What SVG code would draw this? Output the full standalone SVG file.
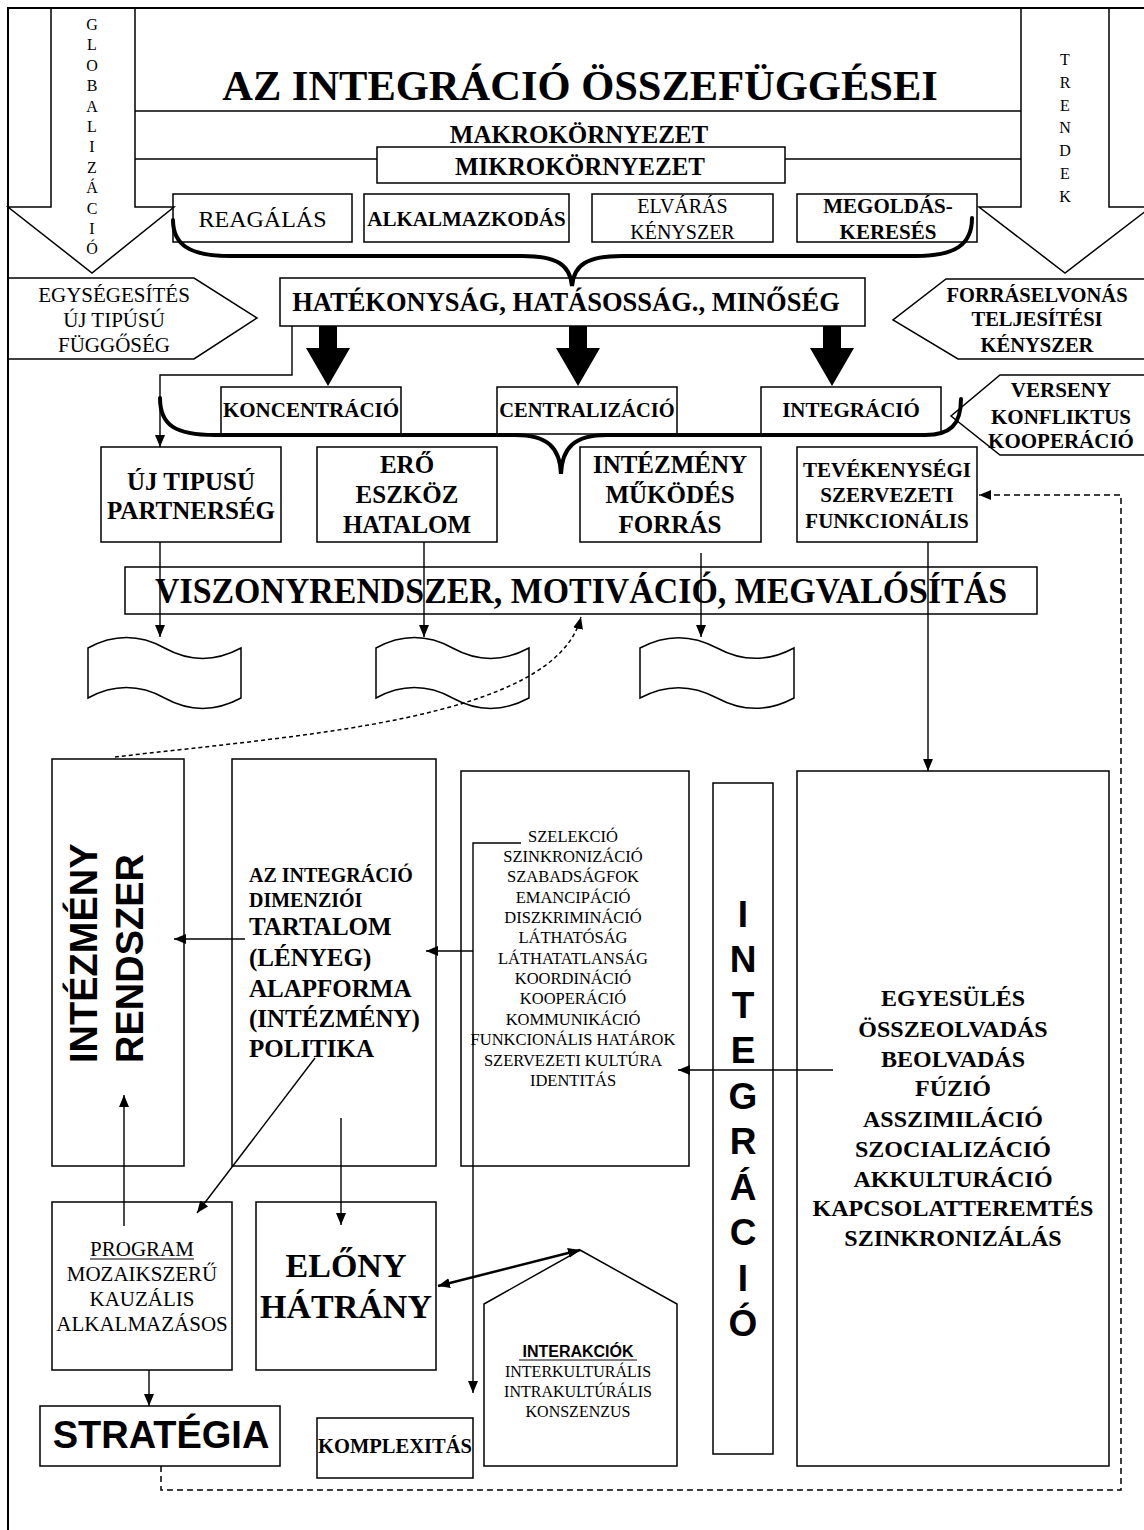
<svg xmlns="http://www.w3.org/2000/svg" width="1144" height="1530" viewBox="0 0 1144 1530">
<style>
text{fill:#000}
.s{font-family:"Liberation Serif","Times New Roman",serif}
.sb{font-family:"Liberation Serif","Times New Roman",serif;font-weight:bold}
.a{font-family:"Liberation Sans",Arial,sans-serif;font-weight:bold}
.m{text-anchor:middle}
.bx{fill:none;stroke:#000;stroke-width:1.5}
.ln{fill:none;stroke:#000;stroke-width:1.4}
.br{fill:none;stroke:#000;stroke-width:4;stroke-linecap:round}
.ds{fill:none;stroke:#000;stroke-width:1.5;stroke-dasharray:6,4}
.dt{fill:none;stroke:#000;stroke-width:1.5;stroke-dasharray:4,3}
.thick{fill:#000;stroke:none}
</style>
<defs>
<marker id="ah" markerUnits="userSpaceOnUse" markerWidth="12" markerHeight="10" refX="12" refY="5" orient="auto-start-reverse">
<path d="M0,0 L12,5 L0,10 Z" fill="#000"/>
</marker>
</defs>
<rect width="1144" height="1530" fill="#fff"/>
<rect x="8" y="8" width="1150" height="1540" fill="none" stroke="#000" stroke-width="2"/>

<g id="globalizacio">
<polygon class="bx" points="51,8 135,8 135,207 174,207 92,273 8,207 51,207"/>
<g class="s m" font-size="16">
<text x="92" y="30">G</text><text x="92" y="50">L</text><text x="92" y="71">O</text><text x="92" y="91">B</text><text x="92" y="112">A</text><text x="92" y="132">L</text><text x="92" y="152">I</text><text x="92" y="173">Z</text><text x="92" y="193">Á</text><text x="92" y="214">C</text><text x="92" y="234">I</text><text x="92" y="254">Ó</text>
</g>
</g>

<g id="trendek">
<polygon class="bx" points="1021,8 1109,8 1109,207 1151,207 1065,273 979,207 1021,207"/>
<g class="s m" font-size="16">
<text x="1065" y="65">T</text><text x="1065" y="88">R</text><text x="1065" y="111">E</text><text x="1065" y="133">N</text><text x="1065" y="156">D</text><text x="1065" y="179">E</text><text x="1065" y="202">K</text>
</g>
</g>

<g id="title">
<line class="ln" x1="135" y1="111" x2="1021" y2="111"/>
<text class="sb m" x="580" y="100" font-size="42.5">AZ INTEGRÁCIÓ ÖSSZEFÜGGÉSEI</text>
</g>

<g id="makrokornyezet">
<line class="ln" x1="135" y1="159" x2="377" y2="159"/>
<line class="ln" x1="785" y1="159" x2="1021" y2="159"/>
<text class="sb m" x="579" y="143" font-size="25">MAKROKÖRNYEZET</text>
</g>

<g id="mikrokornyezet">
<rect class="bx" x="377" y="147" width="408" height="36"/>
<text class="sb m" x="580" y="175" font-size="25">MIKROKÖRNYEZET</text>
</g>

<g id="reagalas">
<rect class="bx" x="173" y="194" width="179" height="48"/>
<text class="s m" x="262.5" y="227" font-size="24">REAGÁLÁS</text>
</g>
<g id="alkalmazkodas">
<rect class="bx" x="364" y="194" width="205" height="48"/>
<text class="sb m" x="466.5" y="226" font-size="21">ALKALMAZKODÁS</text>
</g>
<g id="elvaras">
<rect class="bx" x="592" y="194" width="181" height="48"/>
<text class="s m" x="682.5" y="213" font-size="20">ELVÁRÁS</text>
<text class="s m" x="682.5" y="239" font-size="20">KÉNYSZER</text>
</g>
<g id="megoldas">
<rect class="bx" x="797" y="194" width="180" height="48"/>
<text class="sb m" x="888" y="213" font-size="21">MEGOLDÁS-</text>
<text class="sb m" x="888" y="239" font-size="21">KERESÉS</text>
</g>

<g id="egysegesites">
<polygon class="bx" points="8,278 194,278 257,318 194,359 8,359"/>
<text class="s m" x="114" y="302" font-size="21">EGYSÉGESÍTÉS</text>
<text class="s m" x="114" y="327" font-size="21">ÚJ TIPÚSÚ</text>
<text class="s m" x="114" y="352" font-size="21">FÜGGŐSÉG</text>
</g>

<g id="hatekonysag">
<rect class="bx" x="280" y="278" width="585" height="48"/>
<text class="sb m" x="566" y="311" font-size="26.5">HATÉKONYSÁG, HATÁSOSSÁG., MINŐSÉG</text>
</g>

<g id="forraselvonas">
<polygon class="bx" points="946,279 1150,279 1150,359 958,359 893,320"/>
<text class="sb m" x="1037" y="302" font-size="20.5">FORRÁSELVONÁS</text>
<text class="sb m" x="1037" y="326" font-size="20.5">TELJESÍTÉSI</text>
<text class="sb m" x="1037" y="352" font-size="20.5">KÉNYSZER</text>
</g>

<g id="koncentracio">
<rect class="bx" x="221" y="387" width="180" height="47"/>
<text class="sb m" x="311" y="417" font-size="21">KONCENTRÁCIÓ</text>
</g>
<g id="centralizacio">
<rect class="bx" x="497" y="387" width="180" height="47"/>
<text class="sb m" x="587" y="417" font-size="20.5">CENTRALIZÁCIÓ</text>
</g>
<g id="integracio-box">
<rect class="bx" x="761" y="387" width="180" height="47"/>
<text class="sb m" x="851" y="417" font-size="21">INTEGRÁCIÓ</text>
</g>

<g id="verseny">
<polygon class="bx" points="1000,375 1150,375 1150,455 1000,455 951,416"/>
<text class="sb m" x="1061" y="397" font-size="21">VERSENY</text>
<text class="sb m" x="1061" y="424" font-size="21">KONFLIKTUS</text>
<text class="sb m" x="1061" y="448" font-size="21">KOOPERÁCIÓ</text>
</g>

<g id="uj-tipusu">
<rect class="bx" x="101" y="447" width="180" height="95"/>
<text class="sb m" x="191" y="490" font-size="25">ÚJ TIPUSÚ</text>
<text class="sb m" x="191" y="519" font-size="25">PARTNERSÉG</text>
</g>
<g id="ero">
<rect class="bx" x="317" y="447" width="180" height="95"/>
<text class="sb m" x="407" y="473" font-size="25">ERŐ</text>
<text class="sb m" x="407" y="503" font-size="25">ESZKÖZ</text>
<text class="sb m" x="407" y="533" font-size="25">HATALOM</text>
</g>
<g id="intezmeny-mukodes">
<rect class="bx" x="580" y="447" width="181" height="95"/>
<text class="sb m" x="670" y="473" font-size="25">INTÉZMÉNY</text>
<text class="sb m" x="670" y="503" font-size="25">MŰKÖDÉS</text>
<text class="sb m" x="670" y="533" font-size="25">FORRÁS</text>
</g>
<g id="tevekenysegi">
<rect class="bx" x="797" y="447" width="180" height="95"/>
<text class="sb m" x="887" y="477" font-size="21">TEVÉKENYSÉGI</text>
<text class="sb m" x="887" y="502" font-size="21">SZERVEZETI</text>
<text class="sb m" x="887" y="528" font-size="21">FUNKCIONÁLIS</text>
</g>

<g id="viszonyrendszer">
<rect class="bx" x="125" y="567" width="912" height="47"/>
<text class="sb m" x="581" y="603" font-size="36" textLength="852" lengthAdjust="spacingAndGlyphs">VISZONYRENDSZER, MOTIVÁCIÓ, MEGVALÓSÍTÁS</text>
</g>

<g id="tape1"><path class="bx" d="M88,648 C114,634 139,634 164.5,648 S215,662 241,648 L241,698 C215,712 190,712 164.5,698 S114,684 88,698 Z"/></g>
<g id="tape2"><path class="bx" d="M376,648 C402,634 427,634 452.5,648 S503,662 529,648 L529,698 C503,712 478,712 452.5,698 S402,684 376,698 Z"/></g>
<g id="tape3"><path class="bx" d="M640,648 C666,634 691,634 717,648 S768,662 794,648 L794,698 C768,712 743,712 717,698 S666,684 640,698 Z"/></g>

<g id="intezmeny-rendszer">
<rect class="bx" x="52" y="759" width="132" height="407"/>
<text class="a" font-size="38" transform="translate(97,1063) rotate(-90)">INTÉZMÉNY</text>
<text class="a" font-size="38" transform="translate(143,1063) rotate(-90)">RENDSZER</text>
</g>

<g id="dimenziok">
<rect class="bx" x="232" y="759" width="204" height="407"/>
<text class="sb" x="249" y="882" font-size="20">AZ INTEGRÁCIÓ</text>
<text class="sb" x="249" y="907" font-size="20">DIMENZIÓI</text>
<text class="sb" x="249" y="935" font-size="25">TARTALOM</text>
<text class="sb" x="249" y="966" font-size="25">(LÉNYEG)</text>
<text class="sb" x="249" y="997" font-size="25">ALAPFORMA</text>
<text class="sb" x="249" y="1027" font-size="25">(INTÉZMÉNY)</text>
<text class="sb" x="249" y="1057" font-size="25">POLITIKA</text>
</g>

<g id="szelekcio">
<rect class="bx" x="461" y="771" width="228" height="395"/>
<g class="s m" font-size="16.5">
<text x="573" y="842">SZELEKCIÓ</text>
<text x="573" y="862">SZINKRONIZÁCIÓ</text>
<text x="573" y="882">SZABADSÁGFOK</text>
<text x="573" y="903">EMANCIPÁCIÓ</text>
<text x="573" y="923">DISZKRIMINÁCIÓ</text>
<text x="573" y="943">LÁTHATÓSÁG</text>
<text x="573" y="964">LÁTHATATLANSÁG</text>
<text x="573" y="984">KOORDINÁCIÓ</text>
<text x="573" y="1004">KOOPERÁCIÓ</text>
<text x="573" y="1025">KOMMUNIKÁCIÓ</text>
<text x="573" y="1045">FUNKCIONÁLIS HATÁROK</text>
<text x="573" y="1066">SZERVEZETI KULTÚRA</text>
<text x="573" y="1086">IDENTITÁS</text>
</g>
</g>

<g id="integracio-vertical">
<rect class="bx" x="713" y="783" width="60" height="671"/>
<g class="a m" font-size="37">
<text x="743" y="927">I</text>
<text x="743" y="972">N</text>
<text x="743" y="1018">T</text>
<text x="743" y="1063">E</text>
<text x="743" y="1109">G</text>
<text x="743" y="1154">R</text>
<text x="743" y="1200">Á</text>
<text x="743" y="1245">C</text>
<text x="743" y="1291">I</text>
<text x="743" y="1336">Ó</text>
</g>
</g>

<g id="egyesules">
<rect class="bx" x="797" y="771" width="312" height="695"/>
<g class="sb m" font-size="24">
<text x="953" y="1006">EGYESÜLÉS</text>
<text x="953" y="1037">ÖSSZEOLVADÁS</text>
<text x="953" y="1067">BEOLVADÁS</text>
<text x="953" y="1096">FÚZIÓ</text>
<text x="953" y="1127">ASSZIMILÁCIÓ</text>
<text x="953" y="1157">SZOCIALIZÁCIÓ</text>
<text x="953" y="1187">AKKULTURÁCIÓ</text>
<text x="953" y="1216">KAPCSOLATTEREMTÉS</text>
<text x="953" y="1246">SZINKRONIZÁLÁS</text>
</g>
</g>

<g id="program">
<rect class="bx" x="52" y="1202" width="180" height="168"/>
<text class="s m" x="142" y="1256" font-size="21">PROGRAM</text>
<line x1="90" y1="1259" x2="194" y2="1259" stroke="#000" stroke-width="1.2"/>
<text class="s m" x="142" y="1281" font-size="21">MOZAIKSZERŰ</text>
<text class="s m" x="142" y="1306" font-size="21">KAUZÁLIS</text>
<text class="s m" x="142" y="1331" font-size="21">ALKALMAZÁSOS</text>
</g>

<g id="elony">
<rect class="bx" x="256" y="1202" width="180" height="168"/>
<text class="sb m" x="346" y="1277" font-size="34">ELŐNY</text>
<text class="sb m" x="346" y="1318" font-size="34">HÁTRÁNY</text>
</g>

<g id="interakciok">
<polygon class="bx" points="580,1250 677,1304 677,1466 484,1466 484,1304"/>
<text class="a m" x="578" y="1357" font-size="16">INTERAKCIÓK</text>
<line x1="519" y1="1360" x2="637" y2="1360" stroke="#000" stroke-width="1.2"/>
<text class="s m" x="578" y="1377" font-size="16">INTERKULTURÁLIS</text>
<text class="s m" x="578" y="1397" font-size="16">INTRAKULTÚRÁLIS</text>
<text class="s m" x="578" y="1417" font-size="16">KONSZENZUS</text>
</g>

<g id="komplexitas">
<rect class="bx" x="317" y="1418" width="156" height="60"/>
<text class="sb m" x="395" y="1453" font-size="20.5">KOMPLEXITÁS</text>
</g>

<g id="strategia">
<rect class="bx" x="40" y="1406" width="240" height="60"/>
<text class="a m" x="161" y="1448" font-size="38">STRATÉGIA</text>
</g>

<g id="connectors">
<path class="br" d="M173,220 C173,245 190,256 230,256 L522,256 C556,256 570,264 572,286 C574,264 588,256 622,256 L915,256 C955,256 972,245 972,218"/>
<path class="br" d="M160,398 C160,425 175,435 215,435 L515,435 C548,435 560,448 561,474 C562,448 574,435 607,435 L925,435 C950,435 961,425 961,399"/>
<path class="thick" d="M319,326 L337,326 L337,348 L350,348 L328,386 L306,348 L319,348 Z"/>
<path class="thick" d="M569,326 L587,326 L587,348 L600,348 L578,386 L556,348 L569,348 Z"/>
<path class="thick" d="M823,326 L841,326 L841,348 L854,348 L832,386 L810,348 L823,348 Z"/>
<path class="ln" d="M292,326 L292,375 L160,375 L160,447" marker-end="url(#ah)"/>
<line class="ln" x1="160" y1="542" x2="160" y2="637" marker-end="url(#ah)"/>
<line class="ln" x1="424" y1="542" x2="424" y2="637" marker-end="url(#ah)"/>
<line class="ln" x1="701" y1="553" x2="701" y2="637" marker-end="url(#ah)"/>
<line class="ln" x1="928" y1="542" x2="928" y2="771" marker-end="url(#ah)"/>
<path class="dt" d="M115,757 C300,735 555,720 581,617" marker-end="url(#ah)"/>
<line class="ln" x1="245" y1="939" x2="174" y2="939" marker-end="url(#ah)"/>
<line class="ln" x1="473" y1="951" x2="426" y2="951" marker-end="url(#ah)"/>
<path class="ln" d="M521,843 L473,843 L473,1393" marker-end="url(#ah)"/>
<line class="ln" x1="833" y1="1070" x2="678" y2="1070" marker-end="url(#ah)"/>
<line class="ln" x1="124" y1="1226" x2="124" y2="1095" marker-end="url(#ah)"/>
<line class="ln" x1="315" y1="1058" x2="197" y2="1213" marker-end="url(#ah)"/>
<line class="ln" x1="341" y1="1118" x2="341" y2="1225" marker-end="url(#ah)"/>
<line x1="438" y1="1286" x2="580" y2="1250" stroke="#000" stroke-width="2.5" marker-start="url(#ah)" marker-end="url(#ah)"/>
<line class="ln" x1="149" y1="1370" x2="149" y2="1406" marker-end="url(#ah)"/>
<path class="ds" d="M161,1466 L161,1490 L1121,1490 L1121,495 L979,495" marker-end="url(#ah)"/>
</g>
</svg>
